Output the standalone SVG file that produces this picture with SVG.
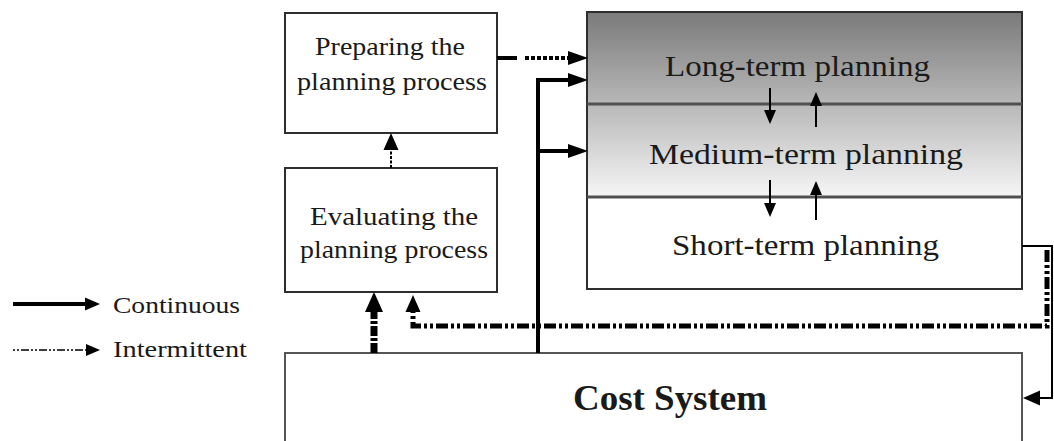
<svg xmlns="http://www.w3.org/2000/svg" width="1054" height="441" viewBox="0 0 1054 441">
<style>
.box{fill:#fff;stroke:#2e2e2e;stroke-width:2}
.t{font-family:"Liberation Serif","Times New Roman",serif;fill:#1a1a1a}
.bt{font-size:26px}
.pt{font-size:29px}
.lt{font-size:24px}
.thick{fill:none;stroke:#000;stroke-width:4}
.thin{fill:none;stroke:#000;stroke-width:2}
.div{stroke:#505050;stroke-width:3}
</style>
<defs>
<linearGradient id="g" gradientUnits="userSpaceOnUse" x1="0" y1="12" x2="0" y2="197">
<stop offset="0" stop-color="#7a7a7a"/>
<stop offset="1" stop-color="#f6f6f6"/>
</linearGradient>
<marker id="big" markerUnits="userSpaceOnUse" markerWidth="20" markerHeight="14" refX="0" refY="7" orient="auto" overflow="visible"><path d="M0,0 L20,7 L0,14 Z" fill="#000"/></marker>
<marker id="sm" markerUnits="userSpaceOnUse" markerWidth="14" markerHeight="12" refX="0" refY="6" orient="auto" overflow="visible"><path d="M0,0 L14,6 L0,12 Z" fill="#000"/></marker>
<marker id="mid" markerUnits="userSpaceOnUse" markerWidth="17" markerHeight="15" refX="0" refY="7.5" orient="auto" overflow="visible"><path d="M0,0 L17,7.5 L0,15 Z" fill="#000"/></marker>
<marker id="wide" markerUnits="userSpaceOnUse" markerWidth="20" markerHeight="18" refX="0" refY="9" orient="auto" overflow="visible"><path d="M0,0 L20,9 L0,18 Z" fill="#000"/></marker>
<marker id="leg" markerUnits="userSpaceOnUse" markerWidth="15" markerHeight="13" refX="0" refY="6.5" orient="auto" overflow="visible"><path d="M0,0 L15,6.5 L0,13 Z" fill="#000"/></marker>
</defs>
<rect width="1054" height="441" fill="#fff"/>

<g id="preparing">
<rect class="box" x="285" y="13" width="212" height="120"/>
<text class="t bt" x="315" y="55" textLength="150" lengthAdjust="spacingAndGlyphs">Preparing the</text>
<text class="t bt" x="297" y="90" textLength="190" lengthAdjust="spacingAndGlyphs">planning process</text>
</g>

<g id="evaluating">
<rect class="box" x="285" y="168" width="212" height="124"/>
<text class="t bt" x="310" y="225" textLength="168" lengthAdjust="spacingAndGlyphs">Evaluating  the</text>
<text class="t bt" x="300" y="258" textLength="188" lengthAdjust="spacingAndGlyphs">planning process</text>
</g>

<g id="planning">
<rect x="587" y="12" width="435" height="185" fill="url(#g)"/>
<rect x="587" y="197" width="435" height="92" fill="#fff"/>
<rect x="587" y="12" width="435" height="277" fill="none" stroke="#2e2e2e" stroke-width="2"/>
<line class="div" x1="587" y1="104" x2="1022" y2="104"/>
<line class="div" x1="587" y1="197" x2="1022" y2="197"/>
</g>
<g id="long-term">
<text class="t pt" x="665" y="76" textLength="265" lengthAdjust="spacingAndGlyphs">Long-term planning</text>
</g>
<g id="medium-term">
<text class="t pt" x="649" y="164" textLength="314" lengthAdjust="spacingAndGlyphs">Medium-term planning</text>
</g>
<g id="short-term">
<text class="t pt" x="672" y="255" textLength="267" lengthAdjust="spacingAndGlyphs">Short-term planning</text>
</g>

<g id="cost-system">
<path d="M285,460 V353 H1022 V460" fill="#fff" stroke="#555" stroke-width="2"/>
<text class="t" x="573" y="410" font-size="36" font-weight="bold" textLength="194" lengthAdjust="spacingAndGlyphs">Cost System</text>
</g>

<g id="connectors">
<path class="thick" d="M497,58 H517"/>
<path class="thick" d="M525,58 H568" stroke-dasharray="4,2" marker-end="url(#big)"/>
<path class="thick" d="M538,353 V80 H568" marker-end="url(#big)"/>
<path class="thick" d="M538,151 H568" marker-end="url(#big)"/>
<path class="thin" d="M770,88 V110" marker-end="url(#sm)"/>
<path class="thin" d="M816,127 V106" marker-end="url(#sm)"/>
<path class="thin" d="M770,180 V203" marker-end="url(#sm)"/>
<path class="thin" d="M816,220 V195" marker-end="url(#sm)"/>
<path d="M391,168 V150" fill="none" stroke="#000" stroke-width="2" stroke-dasharray="3,1.5" marker-end="url(#mid)"/>
<path d="M374,353 V312" fill="none" stroke="#000" stroke-width="7" stroke-dasharray="10,2,3,2" marker-end="url(#wide)"/>
<path d="M1047,250 V326 H413 V312" fill="none" stroke="#000" stroke-width="5" stroke-dasharray="12,3,3,3,3,3" marker-end="url(#mid)"/>
<path class="thin" d="M1022,246 H1052 V398 H1040" marker-end="url(#mid)"/>
</g>

<g id="legend">
<path class="thick" d="M13,304 H85" marker-end="url(#leg)"/>
<text class="t lt" x="113" y="313" textLength="127" lengthAdjust="spacingAndGlyphs">Continuous</text>
<path d="M13,350 H86" fill="none" stroke="#000" stroke-width="1.5" stroke-dasharray="2,2,2,2,8,2" marker-end="url(#sm)"/>
<text class="t lt" x="113" y="357" textLength="134" lengthAdjust="spacingAndGlyphs">Intermittent</text>
</g>
</svg>
